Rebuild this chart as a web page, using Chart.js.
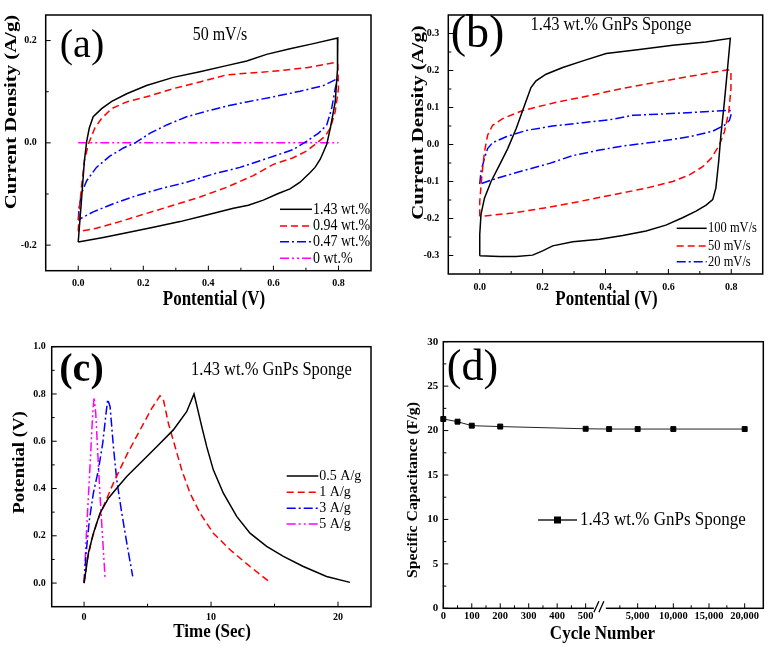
<!DOCTYPE html>
<html>
<head>
<meta charset="utf-8">
<script src="https://cdn.jsdelivr.net/npm/chart.js@4.4.1/dist/chart.umd.min.js"></script>
<style>
  body { margin: 0; background: #fff; }
  #wrap { position: relative; width: 774px; height: 650px; background: #fff; }
  canvas { position: absolute; }
</style>
</head>
<body>
<div id="wrap">
  <canvas id="ca" width="387" height="320" style="left:0;top:0"></canvas>
  <canvas id="cb" width="387" height="320" style="left:387px;top:0"></canvas>
  <canvas id="cc" width="387" height="330" style="left:0;top:320px"></canvas>
  <canvas id="cd" width="387" height="330" style="left:387px;top:320px"></canvas>
</div>
<script>
// ---------- (a) CV at 50 mV/s, different GnP loadings ----------
const aLabels = ['1.43 wt.%', '0.94 wt.%', '0.47 wt.%', '0 wt.%'];
const aV143 = [0, 0.01, 0.019, 0.026, 0.034, 0.046, 0.072, 0.103, 0.149, 0.21, 0.292, 0.374, 0.456, 0.518, 0.579, 0.651, 0.723, 0.798, 0.797, 0.79, 0.775, 0.764, 0.744, 0.728, 0.713, 0.682, 0.651, 0.615, 0.569, 0.523, 0.477, 0.395, 0.313, 0.231, 0.149, 0.077, 0];
const aI143 = [-0.194, -0.112, -0.035, 0.003, 0.029, 0.051, 0.067, 0.081, 0.096, 0.112, 0.128, 0.139, 0.151, 0.16, 0.173, 0.184, 0.194, 0.205, 0.144, 0.08, 0.029, -0.003, -0.032, -0.048, -0.058, -0.077, -0.09, -0.099, -0.112, -0.122, -0.128, -0.141, -0.154, -0.165, -0.176, -0.185, -0.194];
const aV094 = [0, 0.004, 0.01, 0.019, 0.031, 0.051, 0.072, 0.103, 0.149, 0.21, 0.292, 0.374, 0.456, 0.538, 0.62, 0.702, 0.79, 0.798, 0.8, 0.79, 0.775, 0.759, 0.734, 0.702, 0.661, 0.6, 0.538, 0.456, 0.374, 0.292, 0.21, 0.128, 0.056, 0.005, 0];
const aI094 = [-0.173, -0.125, -0.087, -0.035, -0.003, 0.029, 0.048, 0.067, 0.08, 0.09, 0.106, 0.119, 0.133, 0.137, 0.141, 0.147, 0.157, 0.154, 0.106, 0.061, 0.029, 0.013, 0, -0.016, -0.029, -0.042, -0.064, -0.087, -0.106, -0.122, -0.138, -0.154, -0.167, -0.173, -0.173];
const aV047 = [0, 0.003, 0.01, 0.026, 0.056, 0.097, 0.139, 0.175, 0.221, 0.272, 0.333, 0.395, 0.456, 0.518, 0.6, 0.682, 0.754, 0.798, 0.79, 0.779, 0.764, 0.739, 0.702, 0.661, 0.62, 0.559, 0.497, 0.415, 0.333, 0.251, 0.18, 0.108, 0.046, 0.01, 0];
const aI047 = [-0.151, -0.125, -0.099, -0.074, -0.048, -0.026, -0.01, 0, 0.019, 0.035, 0.051, 0.062, 0.072, 0.08, 0.09, 0.101, 0.112, 0.126, 0.106, 0.067, 0.035, 0.019, 0.003, -0.013, -0.022, -0.035, -0.048, -0.061, -0.077, -0.09, -0.103, -0.119, -0.135, -0.147, -0.151];
const aV0 = [0, 0.8];
const aI0 = [0, 0];
const aXTicks = [0, 0.2, 0.4, 0.6, 0.8];
const aXMinor = [0.1, 0.3, 0.5, 0.7];
const aYTicks = [-0.2, 0, 0.2];
const aYMinor = [-0.1, 0.1];

// ---------- (b) CV of 1.43 wt.% sponge at several scan rates ----------
const bLabels = ['100 mV/s', '50 mV/s', '20 mV/s'];
const bV100 = [0, 0, 0.004, 0.015, 0.036, 0.063, 0.089, 0.116, 0.142, 0.163, 0.179, 0.211, 0.264, 0.328, 0.402, 0.508, 0.614, 0.719, 0.797, 0.788, 0.778, 0.767, 0.76, 0.751, 0.741, 0.72, 0.688, 0.645, 0.592, 0.529, 0.455, 0.381, 0.296, 0.232, 0.2, 0.168, 0.116, 0.063, 0];
const bI100 = [-0.301, -0.243, -0.189, -0.145, -0.1, -0.055, -0.011, 0.043, 0.105, 0.154, 0.172, 0.19, 0.208, 0.226, 0.246, 0.257, 0.268, 0.277, 0.287, 0.204, 0.114, 0.025, -0.046, -0.118, -0.149, -0.164, -0.18, -0.198, -0.218, -0.234, -0.246, -0.256, -0.263, -0.274, -0.2875, -0.299, -0.303, -0.303, -0.301];
const bV50 = [0, 0, 0.007, 0.015, 0.025, 0.041, 0.073, 0.137, 0.243, 0.349, 0.455, 0.561, 0.667, 0.789, 0.799, 0.799, 0.792, 0.778, 0.762, 0.736, 0.709, 0.667, 0.614, 0.529, 0.423, 0.317, 0.211, 0.105, 0.01, 0];
const bI50 = [-0.194, -0.154, -0.082, -0.02, 0.025, 0.052, 0.07, 0.092, 0.114, 0.132, 0.152, 0.168, 0.184, 0.202, 0.199, 0.15, 0.0875, 0.034, -0.002, -0.0375, -0.06, -0.082, -0.1, -0.118, -0.136, -0.154, -0.171, -0.185, -0.194, -0.194];
const bV20 = [0, 0.004, 0.015, 0.025, 0.041, 0.084, 0.148, 0.232, 0.328, 0.423, 0.487, 0.592, 0.698, 0.783, 0.796, 0.799, 0.794, 0.778, 0.741, 0.667, 0.561, 0.455, 0.381, 0.296, 0.222, 0.137, 0.063, 0.01, 0];
const bI20 = [-0.107, -0.073, -0.0375, -0.011, 0.005, 0.021, 0.038, 0.05, 0.059, 0.068, 0.079, 0.083, 0.0875, 0.092, 0.092, 0.079, 0.065, 0.052, 0.036, 0.021, 0.007, -0.004, -0.015, -0.03, -0.051, -0.071, -0.089, -0.104, -0.107];
const bXTicks = [0, 0.2, 0.4, 0.6, 0.8];
const bXMinor = [0.1, 0.3, 0.5, 0.7];
const bYTicks = [-0.3, -0.2, -0.1, 0, 0.1, 0.2, 0.3];
const bYMinor = [-0.25, -0.15, -0.05, 0.05, 0.15, 0.25];

// ---------- (c) galvanostatic charge/discharge ----------
const cLabels = ['0.5 A/g', '1 A/g', '3 A/g', '5 A/g'];
const cT05 = [0, 0.34, 0.73, 1.26, 1.92, 2.57, 3.36, 4.41, 5.72, 7.03, 8.08, 8.66, 8.87, 9.27, 9.66, 10.18, 10.97, 12.02, 13.07, 14.38, 15.7, 17.27, 19.1, 20.94];
const cU05 = [0, 0.127, 0.21, 0.296, 0.359, 0.401, 0.451, 0.507, 0.577, 0.648, 0.725, 0.8, 0.753, 0.662, 0.577, 0.479, 0.38, 0.282, 0.211, 0.155, 0.113, 0.07, 0.028, 0.003];
const cT1 = [0, 0.26, 0.6, 1.0, 1.52, 2.31, 3.36, 4.41, 5.33, 5.98, 6.25, 6.64, 7.17, 7.69, 8.35, 9.13, 10.18, 11.5, 13.07, 14.65];
const cU1 = [0, 0.099, 0.183, 0.254, 0.324, 0.423, 0.542, 0.648, 0.739, 0.792, 0.775, 0.676, 0.577, 0.479, 0.38, 0.296, 0.211, 0.141, 0.07, 0.003];
const cT3 = [0, 0.16, 0.42, 0.73, 1.13, 1.47, 1.73, 1.86, 2.05, 2.31, 2.57, 2.97, 3.41, 3.83];
const cU3 = [0, 0.127, 0.268, 0.38, 0.479, 0.592, 0.718, 0.777, 0.746, 0.577, 0.437, 0.296, 0.155, 0.028];
const cT5 = [0, 0.16, 0.34, 0.52, 0.68, 0.79, 0.92, 1.08, 1.26, 1.47, 1.65];
const cU5 = [0, 0.183, 0.366, 0.549, 0.718, 0.786, 0.718, 0.549, 0.366, 0.183, 0.025];
const cXTicks = [0, 10, 20];
const cXMinor = [5, 15];
const cYTicks = [0, 0.2, 0.4, 0.6, 0.8, 1.0];
const cYMinor = [0.1, 0.3, 0.5, 0.7, 0.9];

// ---------- (d) cycling stability ----------
const dLabel = '1.43 wt.% GnPs Sponge';
const dCycles = [0, 50, 100, 200, 500, 1000, 5000, 10000, 20000];
const dCapacitance = [21.3, 21.0, 20.55, 20.45, 20.2, 20.17, 20.17, 20.17, 20.17];
const dXTicks = [0, 100, 200, 300, 400, 500, 5000, 10000, 15000, 20000];
const dXMinor = [50, 150, 250, 350, 450, 2500, 7500, 12500, 17500];
const dYTicks = [0, 5, 10, 15, 20, 25, 30];
const dYMinor = [2.5, 7.5, 12.5, 17.5, 22.5, 27.5];

const serif = "'Liberation Serif', 'Times New Roman', serif";
const RED = 'rgb(255,0,0)', BLUE = 'rgb(0,0,255)', MAG = 'rgb(255,0,255)', BLACK = '#000';
const DASH = [7, 4], DASHDOT = [9, 3, 2, 3], DASHDOTDOT = [9, 3, 2, 3, 2, 3];

// the x axis of (d) is broken: 0-500 linear, then 0-20000 on a compressed scale
function cyclePos(c) {
  return c <= 500 ? c / 100 : 5.574 + c / 5000 * 1.253;
}

function pts(xs, ys) {
  return xs.map((x, i) => ({ x: x, y: ys[i] }));
}

function curve(label, xs, ys, color, dash) {
  return {
    label: label, data: pts(xs, ys), showLine: true,
    borderColor: color, backgroundColor: color, borderWidth: 1.5,
    borderDash: dash, pointRadius: 0, tension: 0, fill: false
  };
}

// text with a small vertical stretch, like the scanned figure
function stretchText(ctx, t) {
  ctx.save();
  ctx.translate(t.x, t.y);
  ctx.scale(1, t.sy || 1);
  if (t.rot) ctx.rotate(-Math.PI / 2);
  ctx.font = (t.bold ? 'bold ' : '') + t.size + 'px ' + serif;
  ctx.fillStyle = '#000';
  ctx.textAlign = t.align || 'center';
  ctx.textBaseline = 'middle';
  ctx.fillText(t.text, 0, 0);
  ctx.restore();
}

// box, inward ticks, labels and in-plot legend
function framePlugin(spec) {
  return {
    id: 'frame',
    afterDatasetsDraw(chart) {
      const ctx = chart.ctx, a = chart.chartArea;
      const xs = chart.scales.x, ys = chart.scales.y;
      ctx.save();
      ctx.strokeStyle = '#000';
      ctx.lineWidth = 1.5;
      ctx.setLineDash([]);
      ctx.strokeRect(a.left, a.top, a.right - a.left, a.bottom - a.top);

      ctx.lineWidth = 1;
      ctx.beginPath();
      spec.xMajor.forEach(v => { const p = xs.getPixelForValue(v); ctx.moveTo(p, a.bottom); ctx.lineTo(p, a.bottom - 5); });
      spec.xMinor.forEach(v => { const p = xs.getPixelForValue(v); ctx.moveTo(p, a.bottom); ctx.lineTo(p, a.bottom - 3); });
      spec.yMajor.forEach(v => { const p = ys.getPixelForValue(v); ctx.moveTo(a.left, p); ctx.lineTo(a.left + 5, p); });
      spec.yMinor.forEach(v => { const p = ys.getPixelForValue(v); ctx.moveTo(a.left, p); ctx.lineTo(a.left + 3, p); });
      ctx.stroke();

      if (spec.brk) {
        const bx = xs.getPixelForValue(spec.brk);
        ctx.fillStyle = '#fff';
        ctx.fillRect(bx - 6, a.bottom - 2, 12, 4);
        ctx.lineWidth = 1.3;
        ctx.beginPath();
        ctx.moveTo(bx - 6, a.bottom + 4); ctx.lineTo(bx - 1, a.bottom - 7);
        ctx.moveTo(bx - 1, a.bottom + 4); ctx.lineTo(bx + 4, a.bottom - 7);
        ctx.stroke();
      }

      spec.texts.forEach(t => stretchText(ctx, t));

      const lg = spec.legend;
      if (lg) {
        chart.data.datasets.forEach((ds, i) => {
          const y = lg.ys[i];
          ctx.strokeStyle = ds.borderColor;
          ctx.lineWidth = 1.5;
          ctx.setLineDash(ds.borderDash || []);
          ctx.beginPath();
          ctx.moveTo(lg.x1, y); ctx.lineTo(lg.x2, y);
          ctx.stroke();
          ctx.setLineDash([]);
          if (lg.marker) {
            ctx.fillStyle = '#000';
            ctx.fillRect((lg.x1 + lg.x2) / 2 - 3.5, y - 3.5, 7, 7);
          }
          stretchText(ctx, { text: ds.label, x: lg.tx, y: y, size: lg.size, sy: lg.sy, align: 'left' });
        });
      }
      ctx.restore();
    }
  };
}

function axis(ax, pad, fmt, fit) {
  return {
    type: 'linear', min: ax.min, max: ax.max,
    grid: { display: false, drawTicks: false },
    border: { display: false },
    ticks: {
      color: '#000', padding: pad, autoSkip: false, maxRotation: 0,
      font: { family: serif, size: ax.font || 10, weight: 'bold' },
      callback: (v, i) => fmt(v, i)
    },
    afterBuildTicks: s => { s.ticks = ax.major.map(v => ({ value: v })); },
    afterFit: fit
  };
}

function panel(id, spec) {
  const cv = document.getElementById(id);
  const W = cv.width, H = cv.height, A = spec.area;
  return new Chart(cv.getContext('2d'), {
    type: 'scatter',
    data: { datasets: spec.datasets },
    options: {
      responsive: false, animation: false, events: [],
      layout: { padding: { top: A.t, right: W - A.r, left: 0, bottom: 0 } },
      plugins: { legend: { display: false }, tooltip: { enabled: false } },
      scales: {
        x: axis(spec.x, spec.x.pad, spec.x.fmt, s => { s.height = H - A.b; }),
        y: axis(spec.y, spec.y.pad, spec.y.fmt, s => { s.width = A.l; })
      }
    },
    plugins: [framePlugin(spec)]
  });
}

const f1 = v => v.toFixed(1);

panel('ca', {
  area: { l: 45.7, t: 12.7, r: 371, b: 270.7 },
  datasets: [
    curve(aLabels[0], aV143, aI143, BLACK, []),
    curve(aLabels[1], aV094, aI094, RED, DASH),
    curve(aLabels[2], aV047, aI047, BLUE, DASHDOT),
    curve(aLabels[3], aV0, aI0, MAG, DASHDOTDOT)
  ],
  x: { min: -0.1, max: 0.9, major: aXTicks, pad: 7, fmt: f1 },
  y: { min: -0.25, max: 0.25, major: aYTicks, pad: 9, fmt: f1 },
  xMajor: aXTicks, xMinor: aXMinor, yMajor: aYTicks, yMinor: aYMinor,
  texts: [
    { text: '(a)', x: 82, y: 46, size: 40 },
    { text: '50 mV/s', x: 220, y: 35, size: 16, sy: 1.2 },
    { text: 'Current Density (A/g)', x: 12, y: 112, size: 17, bold: true, sy: 1.22, rot: true },
    { text: 'Pontential (V)', x: 214, y: 300, size: 17, bold: true, sy: 1.2 }
  ],
  legend: { x1: 280, x2: 312, tx: 313, ys: [209.3, 226, 241.7, 258.3], size: 14, sy: 1.15 }
});

panel('cb', {
  area: { l: 61.3, t: 12.7, r: 375.7, b: 274 },
  datasets: [
    curve(bLabels[0], bV100, bI100, BLACK, []),
    curve(bLabels[1], bV50, bI50, RED, DASH),
    curve(bLabels[2], bV20, bI20, BLUE, DASHDOT)
  ],
  x: { min: -0.1, max: 0.9, major: bXTicks, pad: 7, fmt: f1 },
  y: { min: -0.35, max: 0.35, major: bYTicks, pad: 9, fmt: f1 },
  xMajor: bXTicks, xMinor: bXMinor, yMajor: bYTicks, yMinor: bYMinor,
  texts: [
    { text: '(b)', x: 90.5, y: 35, size: 46 },
    { text: '1.43 wt.% GnPs Sponge', x: 224, y: 25, size: 16.5, sy: 1.15 },
    { text: 'Current Density (A/g)', x: 31.3, y: 122.5, size: 17, bold: true, sy: 1.22, rot: true },
    { text: 'Pontential (V)', x: 219.5, y: 300, size: 17, bold: true, sy: 1.2 }
  ],
  legend: { x1: 289.7, x2: 319.7, tx: 321, ys: [228.3, 246, 261.7], size: 12.5, sy: 1.2 }
});

panel('cc', {
  area: { l: 51.7, t: 26.7, r: 371, b: 286.7 },
  datasets: [
    curve(cLabels[0], cT05, cU05, BLACK, []),
    curve(cLabels[1], cT1, cU1, RED, DASH),
    curve(cLabels[2], cT3, cU3, BLUE, DASHDOT),
    curve(cLabels[3], cT5, cU5, MAG, DASHDOTDOT)
  ],
  x: { min: -2.55, max: 22.6, major: cXTicks, pad: 5, fmt: v => String(v) },
  y: { min: -0.1, max: 1.0, major: cYTicks, pad: 6, fmt: f1 },
  xMajor: cXTicks, xMinor: cXMinor, yMajor: cYTicks, yMinor: cYMinor,
  texts: [
    { text: '(c)', x: 81.5, y: 50.8, size: 40, bold: true },
    { text: '1.43 wt.% GnPs Sponge', x: 271.5, y: 50, size: 16.5, sy: 1.1 },
    { text: 'Potential (V)', x: 20, y: 142.5, size: 17, bold: true, sy: 1.1, rot: true },
    { text: 'Time (Sec)', x: 212, y: 312, size: 17, bold: true, sy: 1.05 }
  ],
  legend: { x1: 286.7, x2: 318.3, tx: 319.3, ys: [156, 172.3, 188.3, 204], size: 14, sy: 1.1 }
});

panel('cd', {
  area: { l: 56.3, t: 21.7, r: 376.3, b: 288.3 },
  datasets: [{
    label: dLabel,
    data: pts(dCycles.map(cyclePos), dCapacitance),
    showLine: true, borderColor: '#222', borderWidth: 1, borderDash: [],
    pointStyle: 'rect', pointRadius: 3.5, pointBackgroundColor: '#000', pointBorderColor: '#000',
    clip: false
  }],
  x: { min: 0, max: 11.24, major: dXTicks.map(cyclePos), pad: 2, font: 10.5,
       fmt: (v, i) => dXTicks[i].toLocaleString('en-US') },
  y: { min: 0, max: 30, major: dYTicks, pad: 5, font: 11, fmt: v => String(v) },
  xMajor: dXTicks.map(cyclePos), xMinor: dXMinor.map(cyclePos), yMajor: dYTicks, yMinor: dYMinor,
  brk: 5.5,
  texts: [
    { text: '(d)', x: 85.5, y: 48.3, size: 44 },
    { text: 'Specific Capacitance (F/g)', x: 26.3, y: 170, size: 15, bold: true, sy: 1.05, rot: true },
    { text: 'Cycle Number', x: 215.5, y: 314, size: 17, bold: true, sy: 1.15 }
  ],
  legend: { x1: 151, x2: 190, tx: 193, ys: [200], size: 17, sy: 1.1, marker: true }
});
</script>
</body>
</html>
